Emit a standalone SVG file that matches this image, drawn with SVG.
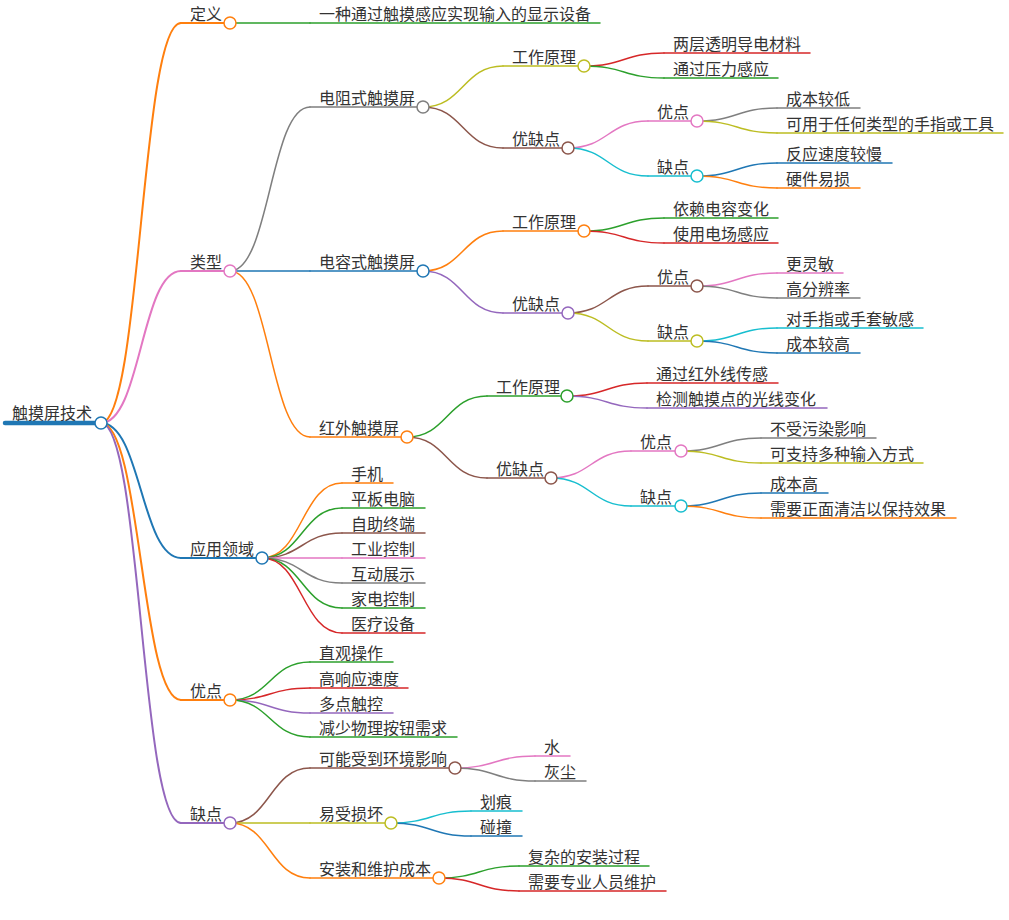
<svg xmlns="http://www.w3.org/2000/svg" width="1009" height="920" viewBox="0 0 1009 920">
<style>
text{font-family:"Noto Sans CJK SC","Noto Sans",sans-serif;font-size:16px;fill:#333}
path,line{fill:none;stroke-linecap:round}
circle{fill:#fff;stroke-width:1.5}
.w0{stroke-width:4.5}.w1{stroke-width:2}.w2{stroke-width:1.5}
.blue{stroke:#1f77b4}.orange{stroke:#ff7f0e}.green{stroke:#2ca02c}.red{stroke:#d62728}.purple{stroke:#9467bd}.brown{stroke:#8c564b}.pink{stroke:#e377c2}.gray{stroke:#7f7f7f}.olive{stroke:#bcbd22}.cyan{stroke:#17becf}
</style>
<rect width="1009" height="920" fill="#fff"/>
<g id="connectors">
<path class="w1 orange" d="M101,423 C141,423 141,23 181,23"/>
<path class="w1 pink" d="M101,423 C141,423 141,271 181,271"/>
<path class="w1 blue" d="M101,423 C141,423 141,558 181,558"/>
<path class="w1 orange" d="M101,423 C141,423 141,700 181,700"/>
<path class="w1 purple" d="M101,423 C141,423 141,823 181,823"/>
<path class="w2 green" d="M230,23 L310,23"/>
<path class="w2 gray" d="M230,271 C270,271 270,107 310,107"/>
<path class="w2 blue" d="M230,271 L310,271"/>
<path class="w2 orange" d="M230,271 C270,271 270,437 310,437"/>
<path class="w2 olive" d="M423,107 C463,107 463,66 503,66"/>
<path class="w2 brown" d="M423,107 C463,107 463,148 503,148"/>
<path class="w2 red" d="M584,66 C624,66 624,53 664,53"/>
<path class="w2 green" d="M584,66 C624,66 624,78 664,78"/>
<path class="w2 pink" d="M568,148 C608,148 608,121 648,121"/>
<path class="w2 cyan" d="M568,148 C608,148 608,176 648,176"/>
<path class="w2 gray" d="M697,121 C737,121 737,108 777,108"/>
<path class="w2 olive" d="M697,121 C737,121 737,133 777,133"/>
<path class="w2 blue" d="M697,176 C737,176 737,163 777,163"/>
<path class="w2 orange" d="M697,176 C737,176 737,188 777,188"/>
<path class="w2 orange" d="M423,271 C463,271 463,231 503,231"/>
<path class="w2 purple" d="M423,271 C463,271 463,313 503,313"/>
<path class="w2 green" d="M584,231 C624,231 624,218 664,218"/>
<path class="w2 red" d="M584,231 C624,231 624,243 664,243"/>
<path class="w2 brown" d="M568,313 C608,313 608,286 648,286"/>
<path class="w2 olive" d="M568,313 C608,313 608,341 648,341"/>
<path class="w2 pink" d="M697,286 C737,286 737,273 777,273"/>
<path class="w2 gray" d="M697,286 C737,286 737,298 777,298"/>
<path class="w2 cyan" d="M697,341 C737,341 737,328 777,328"/>
<path class="w2 blue" d="M697,341 C737,341 737,353 777,353"/>
<path class="w2 green" d="M407,437 C447,437 447,396 487,396"/>
<path class="w2 brown" d="M407,437 C447,437 447,478 487,478"/>
<path class="w2 red" d="M567,396 C607,396 607,383 647,383"/>
<path class="w2 purple" d="M567,396 C607,396 607,408 647,408"/>
<path class="w2 pink" d="M551,478 C591,478 591,451 631,451"/>
<path class="w2 cyan" d="M551,478 C591,478 591,506 631,506"/>
<path class="w2 gray" d="M681,451 C721,451 721,438 761,438"/>
<path class="w2 olive" d="M681,451 C721,451 721,463 761,463"/>
<path class="w2 blue" d="M681,506 C721,506 721,493 761,493"/>
<path class="w2 orange" d="M681,506 C721,506 721,518 761,518"/>
<path class="w2 orange" d="M262,558 C302,558 302,483 342,483"/>
<path class="w2 green" d="M262,558 C302,558 302,508 342,508"/>
<path class="w2 brown" d="M262,558 C302,558 302,533 342,533"/>
<path class="w2 pink" d="M262,558 L342,558"/>
<path class="w2 gray" d="M262,558 C302,558 302,583 342,583"/>
<path class="w2 green" d="M262,558 C302,558 302,608 342,608"/>
<path class="w2 red" d="M262,558 C302,558 302,633 342,633"/>
<path class="w2 green" d="M230,700 C270,700 270,662 310,662"/>
<path class="w2 red" d="M230,700 C270,700 270,688 310,688"/>
<path class="w2 purple" d="M230,700 C270,700 270,713 310,713"/>
<path class="w2 green" d="M230,700 C270,700 270,737 310,737"/>
<path class="w2 brown" d="M230,823 C270,823 270,768 310,768"/>
<path class="w2 olive" d="M230,823 L310,823"/>
<path class="w2 orange" d="M230,823 C270,823 270,878 310,878"/>
<path class="w2 pink" d="M455,768 C495,768 495,756 535,756"/>
<path class="w2 gray" d="M455,768 C495,768 495,781 535,781"/>
<path class="w2 cyan" d="M391,823 C431,823 431,811 471,811"/>
<path class="w2 blue" d="M391,823 C431,823 431,836 471,836"/>
<path class="w2 green" d="M439,878 C479,878 479,866 519,866"/>
<path class="w2 red" d="M439,878 C479,878 479,891 519,891"/>
</g>
<g id="n-root"><line class="w0 blue" x1="5" y1="423" x2="101" y2="423"/><circle class="blue" cx="101" cy="423" r="6"/><text x="12" y="419">触摸屏技术</text></g>
<g id="n-dingyi"><line class="w1 orange" x1="181" y1="23" x2="230" y2="23"/><circle class="orange" cx="230" cy="23" r="6"/><text x="190" y="20">定义</text></g>
<g id="n-dingyi-1"><line class="w2 green" x1="310" y1="23" x2="600" y2="23"/><text x="319" y="20">一种通过触摸感应实现输入的显示设备</text></g>
<g id="n-leixing"><line class="w1 pink" x1="181" y1="271" x2="230" y2="271"/><circle class="pink" cx="230" cy="271" r="6"/><text x="190" y="268">类型</text></g>
<g id="n-dianzu"><line class="w2 gray" x1="310" y1="107" x2="423" y2="107"/><circle class="gray" cx="423" cy="107" r="6"/><text x="319" y="104">电阻式触摸屏</text></g>
<g id="n-dianzu-yl"><line class="w2 olive" x1="503" y1="66" x2="584" y2="66"/><circle class="olive" cx="584" cy="66" r="6"/><text x="512" y="63">工作原理</text></g>
<g id="n-dianzu-yl-1"><line class="w2 red" x1="664" y1="53" x2="810" y2="53"/><text x="673" y="50">两层透明导电材料</text></g>
<g id="n-dianzu-yl-2"><line class="w2 green" x1="664" y1="78" x2="778" y2="78"/><text x="673" y="75">通过压力感应</text></g>
<g id="n-dianzu-yq"><line class="w2 brown" x1="503" y1="148" x2="568" y2="148"/><circle class="brown" cx="568" cy="148" r="6"/><text x="512" y="145">优缺点</text></g>
<g id="n-dianzu-yd"><line class="w2 pink" x1="648" y1="121" x2="697" y2="121"/><circle class="pink" cx="697" cy="121" r="6"/><text x="657" y="118">优点</text></g>
<g id="n-dianzu-yd-1"><line class="w2 gray" x1="777" y1="108" x2="860" y2="108"/><text x="786" y="105">成本较低</text></g>
<g id="n-dianzu-yd-2"><line class="w2 olive" x1="777" y1="133" x2="1003" y2="133"/><text x="786" y="130">可用于任何类型的手指或工具</text></g>
<g id="n-dianzu-qd"><line class="w2 cyan" x1="648" y1="176" x2="697" y2="176"/><circle class="cyan" cx="697" cy="176" r="6"/><text x="657" y="173">缺点</text></g>
<g id="n-dianzu-qd-1"><line class="w2 blue" x1="777" y1="163" x2="892" y2="163"/><text x="786" y="160">反应速度较慢</text></g>
<g id="n-dianzu-qd-2"><line class="w2 orange" x1="777" y1="188" x2="860" y2="188"/><text x="786" y="185">硬件易损</text></g>
<g id="n-dianrong"><line class="w2 blue" x1="310" y1="271" x2="423" y2="271"/><circle class="blue" cx="423" cy="271" r="6"/><text x="319" y="268">电容式触摸屏</text></g>
<g id="n-dianrong-yl"><line class="w2 orange" x1="503" y1="231" x2="584" y2="231"/><circle class="orange" cx="584" cy="231" r="6"/><text x="512" y="228">工作原理</text></g>
<g id="n-dianrong-yl-1"><line class="w2 green" x1="664" y1="218" x2="778" y2="218"/><text x="673" y="215">依赖电容变化</text></g>
<g id="n-dianrong-yl-2"><line class="w2 red" x1="664" y1="243" x2="778" y2="243"/><text x="673" y="240">使用电场感应</text></g>
<g id="n-dianrong-yq"><line class="w2 purple" x1="503" y1="313" x2="568" y2="313"/><circle class="purple" cx="568" cy="313" r="6"/><text x="512" y="310">优缺点</text></g>
<g id="n-dianrong-yd"><line class="w2 brown" x1="648" y1="286" x2="697" y2="286"/><circle class="brown" cx="697" cy="286" r="6"/><text x="657" y="283">优点</text></g>
<g id="n-dianrong-yd-1"><line class="w2 pink" x1="777" y1="273" x2="843" y2="273"/><text x="786" y="270">更灵敏</text></g>
<g id="n-dianrong-yd-2"><line class="w2 gray" x1="777" y1="298" x2="860" y2="298"/><text x="786" y="295">高分辨率</text></g>
<g id="n-dianrong-qd"><line class="w2 olive" x1="648" y1="341" x2="697" y2="341"/><circle class="olive" cx="697" cy="341" r="6"/><text x="657" y="338">缺点</text></g>
<g id="n-dianrong-qd-1"><line class="w2 cyan" x1="777" y1="328" x2="923" y2="328"/><text x="786" y="325">对手指或手套敏感</text></g>
<g id="n-dianrong-qd-2"><line class="w2 blue" x1="777" y1="353" x2="860" y2="353"/><text x="786" y="350">成本较高</text></g>
<g id="n-hongwai"><line class="w2 orange" x1="310" y1="437" x2="407" y2="437"/><circle class="orange" cx="407" cy="437" r="6"/><text x="319" y="434">红外触摸屏</text></g>
<g id="n-hongwai-yl"><line class="w2 green" x1="487" y1="396" x2="567" y2="396"/><circle class="green" cx="567" cy="396" r="6"/><text x="496" y="393">工作原理</text></g>
<g id="n-hongwai-yl-1"><line class="w2 red" x1="647" y1="383" x2="778" y2="383"/><text x="656" y="380">通过红外线传感</text></g>
<g id="n-hongwai-yl-2"><line class="w2 purple" x1="647" y1="408" x2="827" y2="408"/><text x="656" y="405">检测触摸点的光线变化</text></g>
<g id="n-hongwai-yq"><line class="w2 brown" x1="487" y1="478" x2="551" y2="478"/><circle class="brown" cx="551" cy="478" r="6"/><text x="496" y="475">优缺点</text></g>
<g id="n-hongwai-yd"><line class="w2 pink" x1="631" y1="451" x2="681" y2="451"/><circle class="pink" cx="681" cy="451" r="6"/><text x="640" y="448">优点</text></g>
<g id="n-hongwai-yd-1"><line class="w2 gray" x1="761" y1="438" x2="876" y2="438"/><text x="770" y="435">不受污染影响</text></g>
<g id="n-hongwai-yd-2"><line class="w2 olive" x1="761" y1="463" x2="923" y2="463"/><text x="770" y="460">可支持多种输入方式</text></g>
<g id="n-hongwai-qd"><line class="w2 cyan" x1="631" y1="506" x2="681" y2="506"/><circle class="cyan" cx="681" cy="506" r="6"/><text x="640" y="503">缺点</text></g>
<g id="n-hongwai-qd-1"><line class="w2 blue" x1="761" y1="493" x2="828" y2="493"/><text x="770" y="490">成本高</text></g>
<g id="n-hongwai-qd-2"><line class="w2 orange" x1="761" y1="518" x2="956" y2="518"/><text x="770" y="515">需要正面清洁以保持效果</text></g>
<g id="n-yingyong"><line class="w1 blue" x1="181" y1="558" x2="262" y2="558"/><circle class="blue" cx="262" cy="558" r="6"/><text x="190" y="555">应用领域</text></g>
<g id="n-yy-1"><line class="w2 orange" x1="342" y1="483" x2="393" y2="483"/><text x="351" y="480">手机</text></g>
<g id="n-yy-2"><line class="w2 green" x1="342" y1="508" x2="425" y2="508"/><text x="351" y="505">平板电脑</text></g>
<g id="n-yy-3"><line class="w2 brown" x1="342" y1="533" x2="425" y2="533"/><text x="351" y="530">自助终端</text></g>
<g id="n-yy-4"><line class="w2 pink" x1="342" y1="558" x2="425" y2="558"/><text x="351" y="555">工业控制</text></g>
<g id="n-yy-5"><line class="w2 gray" x1="342" y1="583" x2="425" y2="583"/><text x="351" y="580">互动展示</text></g>
<g id="n-yy-6"><line class="w2 green" x1="342" y1="608" x2="425" y2="608"/><text x="351" y="605">家电控制</text></g>
<g id="n-yy-7"><line class="w2 red" x1="342" y1="633" x2="425" y2="633"/><text x="351" y="630">医疗设备</text></g>
<g id="n-youdian"><line class="w1 orange" x1="181" y1="700" x2="230" y2="700"/><circle class="orange" cx="230" cy="700" r="6"/><text x="190" y="697">优点</text></g>
<g id="n-yd-1"><line class="w2 green" x1="310" y1="662" x2="393" y2="662"/><text x="319" y="659">直观操作</text></g>
<g id="n-yd-2"><line class="w2 red" x1="310" y1="688" x2="408" y2="688"/><text x="319" y="685">高响应速度</text></g>
<g id="n-yd-3"><line class="w2 purple" x1="310" y1="713" x2="393" y2="713"/><text x="319" y="710">多点触控</text></g>
<g id="n-yd-4"><line class="w2 green" x1="310" y1="737" x2="457" y2="737"/><text x="319" y="734">减少物理按钮需求</text></g>
<g id="n-quedian"><line class="w1 purple" x1="181" y1="823" x2="230" y2="823"/><circle class="purple" cx="230" cy="823" r="6"/><text x="190" y="820">缺点</text></g>
<g id="n-qd-hj"><line class="w2 brown" x1="310" y1="768" x2="455" y2="768"/><circle class="brown" cx="455" cy="768" r="6"/><text x="319" y="765">可能受到环境影响</text></g>
<g id="n-qd-hj-1"><line class="w2 pink" x1="535" y1="756" x2="570" y2="756"/><text x="544" y="753">水</text></g>
<g id="n-qd-hj-2"><line class="w2 gray" x1="535" y1="781" x2="586" y2="781"/><text x="544" y="778">灰尘</text></g>
<g id="n-qd-sh"><line class="w2 olive" x1="310" y1="823" x2="391" y2="823"/><circle class="olive" cx="391" cy="823" r="6"/><text x="319" y="820">易受损坏</text></g>
<g id="n-qd-sh-1"><line class="w2 cyan" x1="471" y1="811" x2="522" y2="811"/><text x="480" y="808">划痕</text></g>
<g id="n-qd-sh-2"><line class="w2 blue" x1="471" y1="836" x2="522" y2="836"/><text x="480" y="833">碰撞</text></g>
<g id="n-qd-cb"><line class="w2 orange" x1="310" y1="878" x2="439" y2="878"/><circle class="orange" cx="439" cy="878" r="6"/><text x="319" y="875">安装和维护成本</text></g>
<g id="n-qd-cb-1"><line class="w2 green" x1="519" y1="866" x2="649" y2="866"/><text x="528" y="863">复杂的安装过程</text></g>
<g id="n-qd-cb-2"><line class="w2 red" x1="519" y1="891" x2="666" y2="891"/><text x="528" y="888">需要专业人员维护</text></g>
</svg>
